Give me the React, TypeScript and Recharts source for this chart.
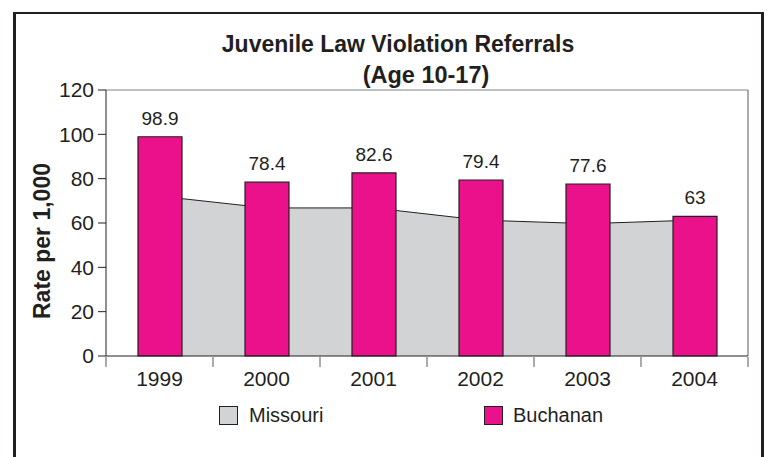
import { ComposedChart, Area, Bar, XAxis, YAxis, LabelList } from 'recharts';

const years = ['1999', '2000', '2001', '2002', '2003', '2004'];
const buchanan = [98.9, 78.4, 82.6, 79.4, 77.6, 63];
const missouri = [72.1, 66.8, 66.8, 61.3, 59.7, 61.3];
const yTicks = [0, 20, 40, 60, 80, 100, 120];
const bandTicks = [0, 1, 2, 3, 4, 5, 6];

const data = years.map((year, i) => ({ year, pos: i + 0.5, missouri: missouri[i], buchanan: buchanan[i] }));

const INK = '#231f20';
const GREY = '#d1d3d4';
const MAGENTA = '#ea118b';
const FONT = '"Liberation Sans", Arial, Helvetica, sans-serif';

export default function App() {
  return (
    <div style={{ position: 'absolute', left: 0, top: 0, width: 767, height: 457, overflow: 'hidden', background: '#fff', fontFamily: FONT, color: INK }}>
      {/* outer frame, open at the bottom */}
      <div style={{ position: 'absolute', left: 13, top: 12, width: 745, height: 480, borderLeft: `3px solid ${INK}`, borderRight: `3px solid ${INK}`, borderTop: `2px solid ${INK}` }} />

      <div style={{ position: 'absolute', left: 198, width: 400, top: 30, textAlign: 'center', fontSize: 23, fontWeight: 700, lineHeight: '28px' }}>
        Juvenile Law Violation Referrals
      </div>
      <div style={{ position: 'absolute', left: 326, width: 200, top: 61, textAlign: 'center', fontSize: 23.5, fontWeight: 700, lineHeight: '28px' }}>
        (Age 10-17)
      </div>
      <div style={{ position: 'absolute', left: 42 - 100, top: 241 - 14, width: 200, height: 28, lineHeight: '28px', textAlign: 'center', fontSize: 23, fontWeight: 700, transform: 'rotate(-90deg)' }}>
        Rate per 1,000
      </div>

      <ComposedChart width={767} height={457} data={data} margin={{ top: 89, right: 18, left: 46, bottom: 99 }} style={{ position: 'absolute', left: 0, top: 0 }}>
        <XAxis xAxisId="top" orientation="top" height={1} tick={false} tickLine={false} axisLine={{ stroke: '#808285' }} />
        <YAxis yAxisId="right" orientation="right" width={1} tick={false} tickLine={false} axisLine={{ stroke: '#58595b' }} />
        <XAxis
          xAxisId="marks"
          dataKey="pos"
          type="number"
          domain={[0, 6]}
          ticks={bandTicks}
          allowDataOverflow
          height={1}
          tickFormatter={() => ''}
          tickSize={10}
          axisLine={false}
          tickLine={{ stroke: '#58595b' }}
        />
        <XAxis
          dataKey="year"
          height={1}
          tickSize={0}
          tickMargin={15}
          interval={0}
          axisLine={{ stroke: INK }}
          tick={{ fill: INK, fontSize: 21, fontFamily: FONT }}
        />
        <YAxis
          domain={[0, 120]}
          ticks={yTicks}
          width={60}
          tickSize={8}
          tickMargin={4}
          axisLine={{ stroke: INK }}
          tickLine={{ stroke: INK }}
          tick={{ fill: INK, fontSize: 21, fontFamily: FONT }}
        />
        <Area type="linear" dataKey="missouri" fill={GREY} fillOpacity={1} stroke={INK} strokeWidth={1} isAnimationActive={false} />
        <Bar dataKey="buchanan" barSize={44} fill={MAGENTA} stroke={INK} strokeWidth={1.2} isAnimationActive={false}>
          <LabelList dataKey="buchanan" position="top" offset={12} fill={INK} fontSize={19} fontFamily={FONT} />
        </Bar>
      </ComposedChart>

      {/* legend */}
      <div style={{ position: 'absolute', left: 219, top: 406, width: 17, height: 17, background: GREY, border: `1px solid ${INK}` }} />
      <div style={{ position: 'absolute', left: 249, top: 403, fontSize: 20, lineHeight: '24px' }}>Missouri</div>
      <div style={{ position: 'absolute', left: 484, top: 406, width: 17, height: 17, background: MAGENTA, border: `1px solid ${INK}` }} />
      <div style={{ position: 'absolute', left: 513, top: 403, fontSize: 20, lineHeight: '24px' }}>Buchanan</div>
    </div>
  );
}
